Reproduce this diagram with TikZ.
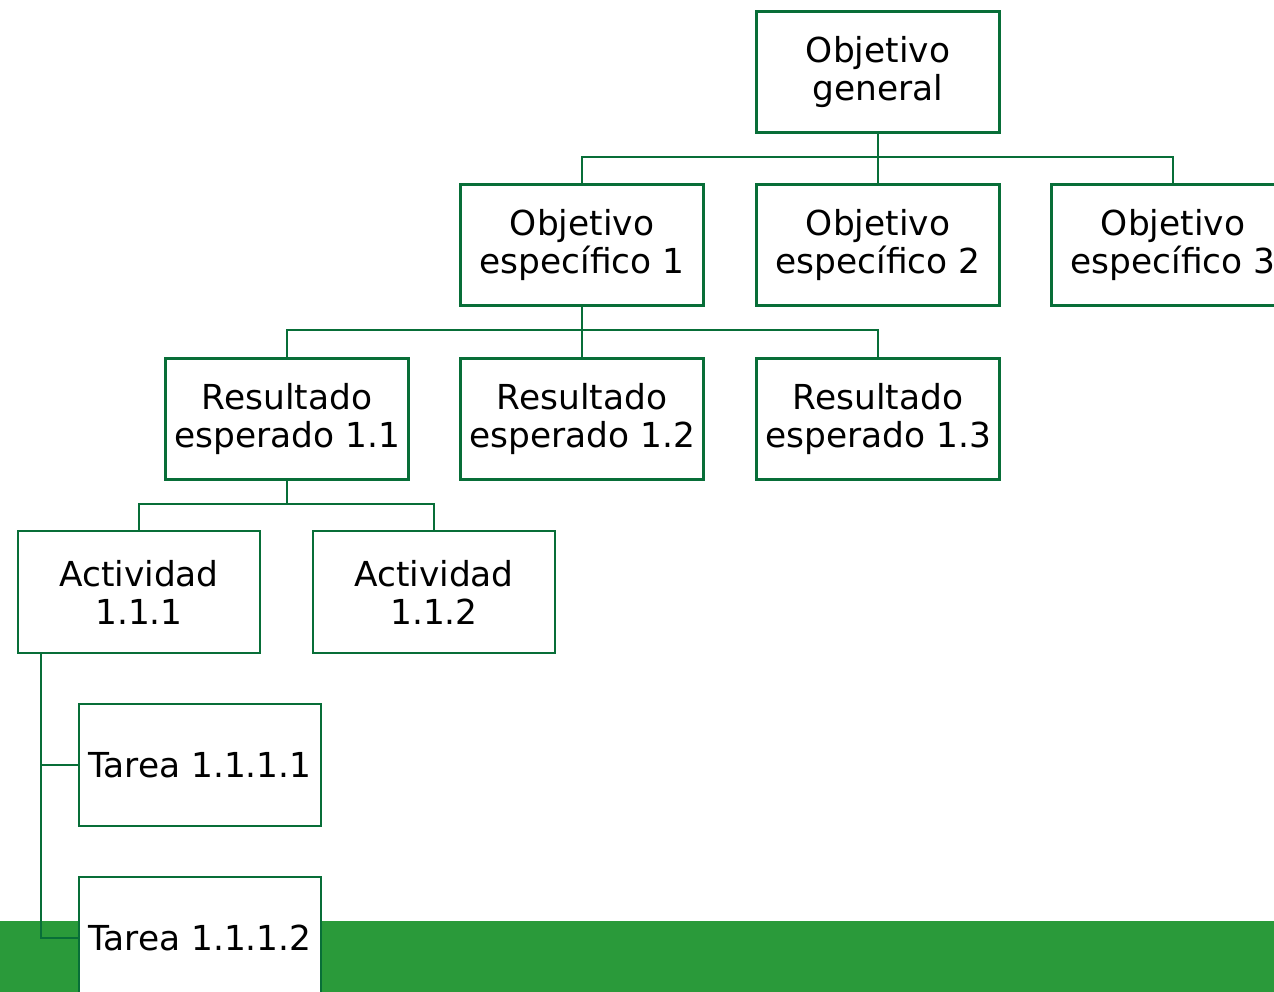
\documentclass[tikz,border=0pt]{standalone}
\usepackage{fontspec}
\setmainfont{DejaVu Sans}
\usetikzlibrary{positioning}

\definecolor{boxline}{RGB}{8,110,56}
\definecolor{barfill}{RGB}{42,154,58}

\tikzset{
  box/.style={draw=boxline, fill=white, minimum width=182pt, minimum height=91pt,
    align=center, inner sep=2pt, font=\fontsize{25.8}{28.5}\selectfont},
  thickbox/.style={box, line width=2.6pt},
  thinbox/.style={box, line width=1.6pt},
  link/.style={draw=boxline, line width=1.5pt}
}

\begin{document}
\begin{tikzpicture}[x=0.75pt,y=-0.75pt]
  \useasboundingbox (0,0) rectangle (1274,992);
  \clip (0,0) rectangle (1274,992);
  % green band at the bottom
  \fill[barfill] (0,921) rectangle (1274,992);

  \node[thickbox] (og) at (878,72) {Objetivo\\general};
  \node[thickbox] (oe1) at (582,245) {Objetivo\\específico 1};
  \node[thickbox] (oe2) at (878,245) {Objetivo\\específico 2};
  \node[thickbox] (oe3) at (1173,245) {Objetivo\\específico 3};
  \node[thickbox] (re1) at (287,419) {Resultado\\esperado 1.1};
  \node[thickbox] (re2) at (582,419) {Resultado\\esperado 1.2};
  \node[thickbox] (re3) at (878,419) {Resultado\\esperado 1.3};
  \node[thinbox] (ac1) at (139,592) {Actividad\\1.1.1};
  \node[thinbox] (ac2) at (434,592) {Actividad\\1.1.2};
  \node[thinbox] (ta1) at (200,765) {Tarea 1.1.1.1};
  \node[thinbox] (ta2) at (200,938) {Tarea 1.1.1.2};

  \coordinate (bus1) at (878,157);
  \coordinate (bus2) at (582,330);
  \coordinate (bus3) at (287,504);

  \draw[link] (og.south) -- (oe2.north);
  \draw[link] (oe1.north) |- (bus1) -| (oe3.north);
  \draw[link] (oe1.south) -- (re2.north);
  \draw[link] (re1.north) |- (bus2) -| (re3.north);
  \draw[link] (re1.south) -- (bus3);
  \draw[link] (ac1.north) |- (bus3) -| (ac2.north);
  \draw[link] ([xshift=18pt]ac1.south west) |- (ta1.west);
  \draw[link] ([xshift=18pt]ac1.south west) |- (ta2.west);
\end{tikzpicture}
\end{document}
